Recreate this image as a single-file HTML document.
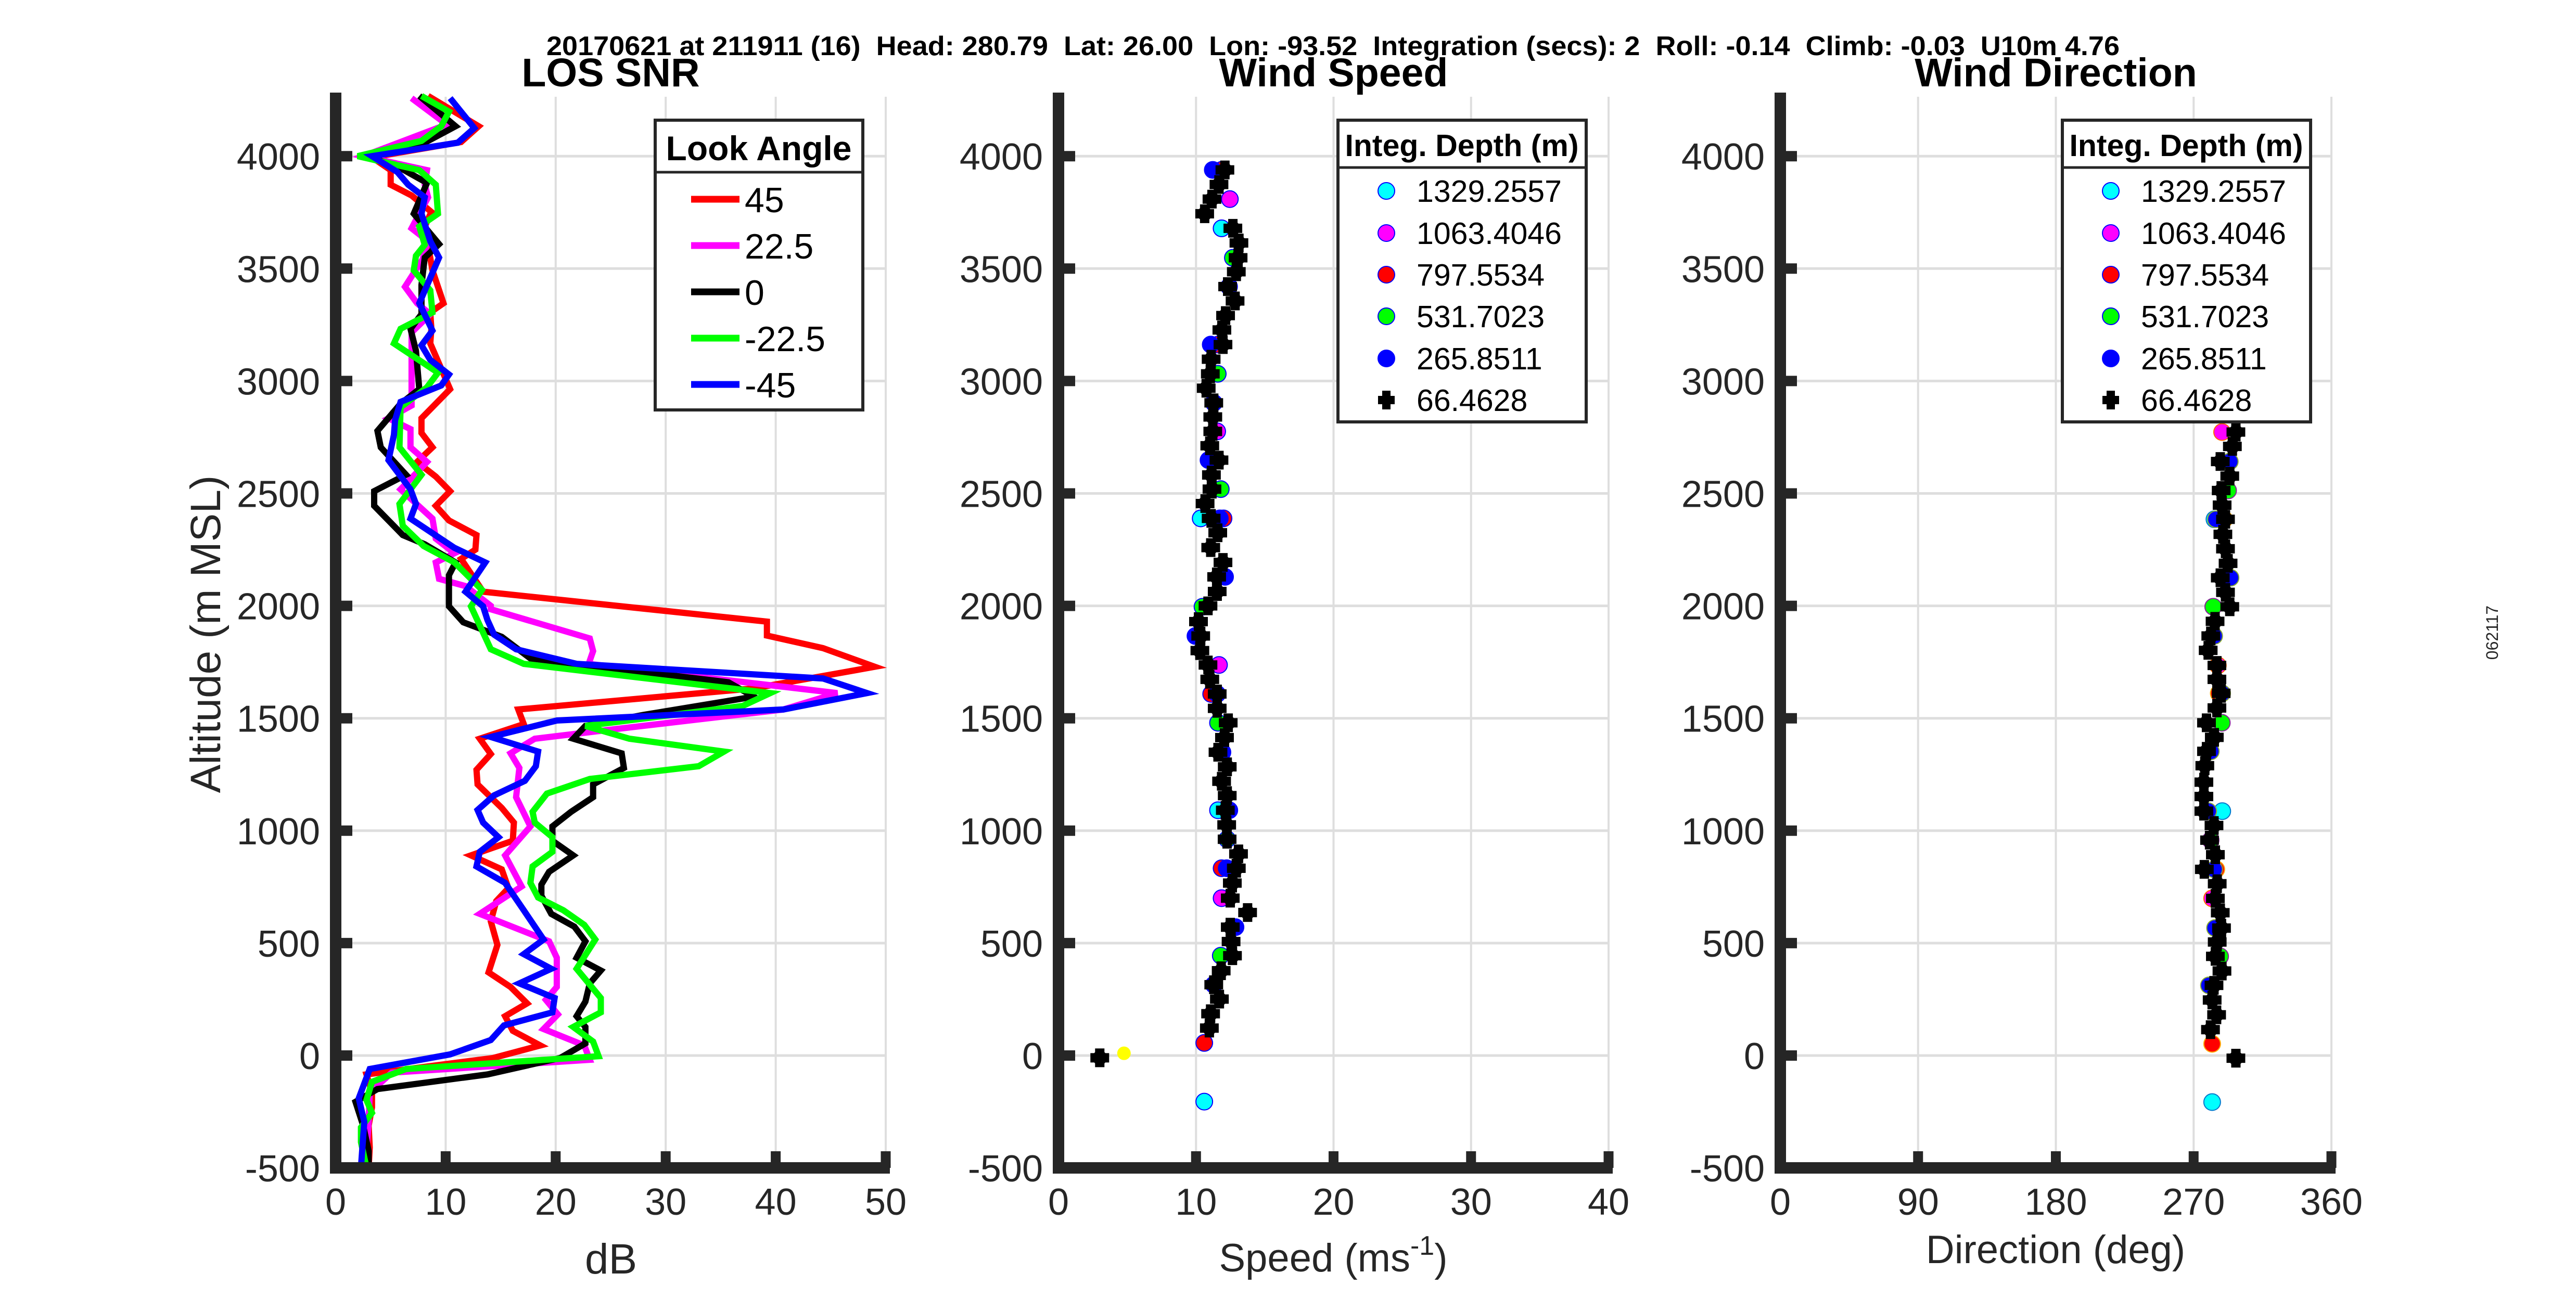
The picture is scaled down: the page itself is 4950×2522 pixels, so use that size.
<!DOCTYPE html>
<html><head><meta charset="utf-8"><title>LOS SNR / Wind Speed / Wind Direction</title>
<style>
html,body{margin:0;padding:0;background:#fff;}
svg{display:block;font-family:"Liberation Sans",Arial,sans-serif;}
</style></head>
<body>
<svg id="fig" xmlns="http://www.w3.org/2000/svg" width="4950" height="2522" viewBox="0 0 4950 2522">
<rect x="0" y="0" width="4950" height="2522" fill="#fff"/>
<text x="1050" y="106" font-size="52" font-weight="bold" textLength="3023" lengthAdjust="spacingAndGlyphs" fill="#000" xml:space="preserve" style="white-space:pre">20170621 at 211911 (16)  Head: 280.79  Lat: 26.00  Lon: -93.52  Integration (secs): 2  Roll: -0.14  Climb: -0.03  U10m 4.76</text>
<text x="4800" y="1216" font-size="32" fill="#262626" text-anchor="middle" transform="rotate(-90 4800 1216)">062117</text>
</svg>
<script>
// ---------- data ----------
const altTicks = [-500,0,500,1000,1500,2000,2500,3000,3500,4000];
const snrTicks = [0,10,20,30,40,50];
const speedTicks = [0,10,20,30,40];
const dirTicks = [0,90,180,270,360];
const lookAngles = ["45","22.5","0","-22.5","-45"];
const depthLabels = ["1329.2557","1063.4046","797.5534","531.7023","265.8511","66.4628"];

const snr45Alt = [4268,4133,4063,3995,3938,3873,3825,3752,3687,3492,3346,3305,3232,3167,2964,2834,2769,2705,2640,2575,2510,2445,2380,2315,2250,2209,2063,1930,1868,1812,1729,1633,1539,1474,1409,1341,1271,1206,1101,1036,955,890,828,744,687,597,492,370,305,232,175,110,45,-11,-84,-165,-230,-312,-409,-498];
const snr45Db  = [8.4,13.0,11.4,3.3,5.0,5.0,6.9,8.7,8.1,8.8,9.8,8.6,8.7,8.6,10.4,7.8,7.8,8.8,7.4,9.1,10.4,9.1,10.3,12.8,12.7,11.4,13.4,39.2,39.2,44.3,49.0,38.0,16.6,17.1,13.1,14.1,12.8,12.9,15.1,16.2,16.1,12.3,15.1,15.7,14.6,14.1,14.7,13.9,15.9,17.4,15.4,16.1,18.6,14.3,2.8,3.3,3.3,3.0,3.1,3.0];

const snr22Alt = [4258,4141,4000,3938,3873,3817,3679,3622,3541,3419,3346,3297,3216,3005,2891,2834,2786,2705,2640,2518,2388,2299,2234,2193,2120,2088,2000,1985,1855,1799,1742,1612,1539,1442,1409,1344,1279,1149,1019,890,752,630,508,435,305,248,183,118,45,-19,-76,-165,-295,-425,-498];
const snr22Db  = [6.9,10.1,2.5,8.3,8.1,8.4,6.9,8.4,7.9,6.3,7.4,8.6,6.9,6.9,6.9,4.8,6.8,6.8,8.3,5.9,8.8,9.1,10.8,9.1,9.4,11.8,14.1,14.1,23.1,23.4,23.0,45.6,40.7,23.7,18.1,15.9,16.7,16.4,17.7,15.4,16.9,13.1,19.4,20.1,20.1,19.1,20.2,18.9,22.6,23.1,5.1,3.1,3.0,2.8,2.6];

const snr0Alt = [4268,4133,4060,3995,3955,3881,3744,3609,3549,3427,3297,3232,3135,2964,2899,2778,2705,2583,2510,2445,2315,2274,2193,2136,1998,1927,1862,1766,1660,1596,1515,1466,1409,1344,1279,1206,1149,1084,1019,955,890,817,760,711,630,573,508,435,378,321,240,175,127,54,-11,-84,-149,-206,-312,-425,-498];
const snr0Db  = [7.6,10.9,8.1,3.1,5.6,8.3,7.1,9.4,8.1,7.8,7.8,6.8,7.3,7.6,5.9,3.8,4.1,6.4,3.5,3.5,6.1,8.1,10.9,10.3,10.3,11.6,15.1,17.7,35.7,38.0,28.0,22.7,21.6,26.0,26.2,23.4,23.4,21.4,19.7,19.7,21.6,19.4,18.7,18.7,19.6,21.7,22.7,21.9,24.1,23.1,22.7,21.9,22.7,22.7,20.4,13.8,3.8,1.8,2.5,3.0,3.0];

const snrM22Alt = [4268,4198,4133,4068,4000,3938,3873,3744,3687,3606,3557,3492,3403,3305,3232,3167,3102,3037,2972,2883,2705,2583,2453,2356,2266,2193,2071,1998,1807,1742,1612,1555,1466,1409,1352,1287,1230,1165,1084,1036,971,906,841,768,703,646,581,516,386,256,192,127,62,-3,-60,-117,-198,-255,-320,-385,-498];
const snrM22Db  = [7.8,10.3,9.6,7.8,2.0,7.6,9.1,9.3,7.6,8.1,7.3,7.1,8.6,8.8,5.9,5.3,7.3,9.3,8.3,5.9,5.8,7.8,5.8,6.1,8.0,10.8,13.3,12.3,14.1,17.1,39.5,37.0,22.7,26.7,35.3,33.0,23.1,19.2,17.9,18.1,19.7,19.7,17.9,17.7,18.4,20.7,22.6,23.6,21.9,24.1,24.1,21.6,23.4,23.9,6.4,3.3,2.8,3.3,2.3,2.3,2.8];

const snrM45Alt = [4258,4125,4060,4000,3930,3873,3817,3744,3622,3549,3346,3224,3159,3094,3029,2980,2907,2826,2761,2648,2518,2453,2388,2258,2193,2063,1998,1937,1872,1807,1742,1677,1612,1539,1490,1417,1352,1287,1222,1157,1092,1036,971,906,841,768,646,516,451,386,321,256,192,134,69,5,-60,-190,-295,-498];
const snrM45Db  = [10.4,12.6,11.1,3.3,5.6,6.6,8.1,7.8,8.6,9.4,7.6,8.8,7.8,8.6,10.3,9.6,5.9,5.4,5.3,4.8,6.8,7.3,6.8,10.8,13.6,11.8,13.4,13.8,14.4,16.4,21.9,44.3,48.3,40.7,20.1,14.1,18.4,18.2,17.2,14.4,12.9,13.4,14.8,13.1,12.8,15.4,17.1,18.9,17.1,19.6,16.7,19.9,19.7,15.3,14.1,10.4,3.1,2.1,2.6,2.3];

// wind speed
const spdCyanAlt = [3679,2389,1091,-205];
const spdCyan    = [11.86,10.34,11.6,10.6];
const spdMagAlt  = [3809,2776,1737,700];
const spdMag     = [12.46,11.54,11.67,11.86];
const spdRedAlt  = [3939,3162,2389,1608,833,56];
const spdRed     = [11.86,11.6,12.0,11.1,11.86,10.6];
const spdGrnAlt  = [3548,3032,2519,1996,1480,962,444];
const spdGrn     = [12.68,11.58,11.8,10.47,11.6,12.26,11.8];
const spdBluAlt  = [3939,3420,3162,2903,2648,2389,2129,1866,1608,1349,1091,833,571,315];
const spdBlu     = [11.22,12.4,11.07,11.29,10.91,11.73,12.11,9.96,11.54,11.92,12.42,12.23,12.87,11.29];
const spdBlkAlt  = [3939,3874,3809,3744,3679,3614,3548,3486,3420,3356,3291,3227,3162,3097,3032,2968,2903,2840,2776,2712,2648,2582,2519,2455,2389,2325,2259,2193,2129,2064,2000,1930,1866,1801,1737,1673,1608,1544,1480,1414,1349,1284,1220,1156,1091,1026,962,897,833,767,700,636,571,507,444,377,315,251,186,122,-10];
const spdBlk     = [12.1,11.67,11.16,10.63,12.68,13.12,13.06,12.93,12.30,12.84,12.15,11.88,11.96,11.10,11.04,10.74,11.29,11.22,11.22,11.0,11.67,11.12,11.16,10.66,11.10,11.58,11.07,11.96,11.50,11.54,10.87,10.18,10.34,10.28,10.87,11.0,11.54,11.54,12.34,12.07,11.60,12.27,11.86,12.27,12.13,12.23,12.26,13.09,12.93,12.64,12.49,13.75,12.49,12.55,12.65,11.83,11.29,11.70,11.06,10.97,3.0];
const spdSurfAlt = [10];
const spdSurf    = [4.76];

// wind direction
const dirCyanAlt = [2385,1087,-207];
const dirCyan    = [283.6,288.7,282.1];
const dirMagAlt  = [2773,1735,699];
const dirMag     = [288.6,285.8,282.1];
const dirRedAlt  = [2385,1611,828,52];
const dirRed     = [290.0,286.4,284.8,282.1];
const dirGrnAlt  = [2513,1996,1480,958,441];
const dirGrn     = [292.5,282.8,288.4,281.1,287.3];
const dirBluAlt  = [2642,2385,2125,1866,1611,1353,1087,828,567,312];
const dirBlu     = [293.6,284.6,294.1,283.4,288.6,281.2,279.5,283.4,284.0,280.0];
const dirBlkAlt  = [2773,2709,2642,2577,2513,2448,2385,2318,2254,2189,2125,2060,1996,1931,1866,1802,1735,1673,1611,1546,1480,1415,1353,1289,1216,1152,1087,1023,958,893,828,764,699,635,567,505,441,376,312,247,181,115,-12];
const dirBlk     = [297.6,295.3,287.4,293.6,288.0,288.6,290.8,289.1,290.8,292.5,287.4,290.8,293.6,284.0,281.2,279.5,285.2,285.2,288.0,285.2,278.4,283.5,278.4,277.3,276.7,276.7,276.7,283.3,280.4,284.2,277.0,285.4,284.2,287.4,288.2,285.4,284.2,288.5,283.3,282.1,285.0,281.0,297.6];

// ---------- layout ----------
const NS = "http://www.w3.org/2000/svg";
const svg = document.getElementById('fig');
const AX = '#262626', GRID = '#dedede';
const yTop = 178, yBot = 2245;
function yOf(a){ return 2029 - a*0.4322; }
function mk(tag, attrs, parent){
  const e = document.createElementNS(NS, tag);
  for (const k in attrs) e.setAttribute(k, attrs[k]);
  (parent||svg).appendChild(e);
  return e;
}
const panels = [
  {x0:645,  x1:1702, min:0, max:50,  ticks:snrTicks,   title:'LOS SNR',        key:'snr'},
  {x0:2034, x1:3091, min:0, max:40,  ticks:speedTicks, title:'Wind Speed',     key:'speed'},
  {x0:3421, x1:4480, min:0, max:360, ticks:dirTicks,   title:'Wind Direction', key:'direction'}
];
function xOf(p, v){ return p.x0 + (v-p.min)/(p.max-p.min)*(p.x1-p.x0); }

panels.forEach(function(p){
  const g = mk('g', {});
  
  
  p.g = g;
  p.ticks.forEach(function(t){
    const l = mk('line', {x1:xOf(p,t), x2:xOf(p,t), y1:yTop+8, y2:yBot, stroke:GRID, 'stroke-width':4}, g);
    
    
  });
  altTicks.forEach(function(t){
    const l = mk('line', {x1:p.x0, x2:p.x1, y1:yOf(t), y2:yOf(t), stroke:GRID, 'stroke-width':5}, g);
    
    
  });
  const tt = mk('text', {x:(p.x0+p.x1)/2, y:166, 'font-size':77, 'font-weight':'bold', 'text-anchor':'middle', fill:'#000'}, g);
  tt.textContent = p.title;
  
  
});

function drawAxes(p){
  const g = mk('g', {});
  
  
  const yl = mk('line', {x1:p.x0, x2:p.x0, y1:yTop, y2:yBot+11, stroke:AX, 'stroke-width':22}, g);
  
  
  const xl = mk('line', {x1:p.x0-11, x2:p.x1+8, y1:yBot, y2:yBot, stroke:AX, 'stroke-width':22}, g);
  
  
  p.ticks.forEach(function(t){
    const x = xOf(p,t);
    const tk = mk('line', {x1:x, x2:x, y1:yBot-32, y2:yBot, stroke:AX, 'stroke-width':19}, g);
    
    
    const lb = mk('text', {x:x, y:2335, 'font-size':72, 'text-anchor':'middle', fill:AX}, g);
    lb.textContent = String(t);
    
    
  });
  altTicks.forEach(function(t){
    const y = yOf(t);
    const tk = mk('line', {x1:p.x0, x2:p.x0+32, y1:y, y2:y, stroke:AX, 'stroke-width':20}, g);
    
    
    const lb = mk('text', {x:p.x0-30, y:y+26, 'font-size':72, 'text-anchor':'end', fill:AX}, g);
    lb.textContent = String(t);
    
    
  });
}

// ---------- panel 1: SNR lines ----------
const snrSeries = [
  {alt:snr45Alt,  v:snr45Db,  c:'#ff0000', n:'snr-line-45'},
  {alt:snr22Alt,  v:snr22Db,  c:'#ff00ff', n:'snr-line-22-5'},
  {alt:snr0Alt,   v:snr0Db,   c:'#000000', n:'snr-line-0'},
  {alt:snrM22Alt, v:snrM22Db, c:'#00ff00', n:'snr-line-minus-22-5'},
  {alt:snrM45Alt, v:snrM45Db, c:'#0000ff', n:'snr-line-minus-45'}
];
snrSeries.forEach(function(s){
  const pts = s.alt.map(function(a,i){ return xOf(panels[0], s.v[i]).toFixed(1) + ',' + yOf(a).toFixed(1); }).join(' ');
  const pl = mk('polyline', {points:pts, fill:'none', stroke:s.c, 'stroke-width':12, 'stroke-linejoin':'miter'}, panels[0].g);
  
  
});

// ---------- markers ----------
function circle(p, v, a, fill, edge, name){
  const c = mk('circle', {cx:xOf(p,v), cy:yOf(a), r:16, fill:fill, stroke:edge, 'stroke-width':2}, p.g);
  
  
}
function plusMark(p, v, a, name){
  const x = xOf(p,v), y = yOf(a);
  const d = 'M'+(x-9)+','+(y-18)+' h18 v9 h9 v18 h-9 v9 h-18 v-9 h-9 v-18 h9 z';
  const g = mk('g', {}, p.g);
  
  
  mk('path', {d:d, fill:'#000'}, g);
  mk('circle', {cx:x, cy:y, r:14, fill:'#000'}, g);
}
const spdColored = [
  {alt:spdCyanAlt, v:spdCyan, c:'#00ffff', n:'speed-point-1329m'},
  {alt:spdMagAlt,  v:spdMag,  c:'#ff00ff', n:'speed-point-1063m'},
  {alt:spdRedAlt,  v:spdRed,  c:'#ff0000', n:'speed-point-798m'},
  {alt:spdGrnAlt,  v:spdGrn,  c:'#00ff00', n:'speed-point-532m'},
  {alt:spdBluAlt,  v:spdBlu,  c:'#0000ff', n:'speed-point-266m'}
];
spdColored.forEach(function(s){
  s.alt.forEach(function(a,i){ circle(panels[1], s.v[i], a, s.c, '#0000ff', s.n); });
});
spdSurfAlt.forEach(function(a,i){
  const c = mk('circle', {cx:xOf(panels[1], spdSurf[i]), cy:yOf(a), r:13, fill:'#ffff00'}, panels[1].g);
  
  
});
spdBlkAlt.forEach(function(a,i){ plusMark(panels[1], spdBlk[i], a, 'speed-point-66m'); });

const dirColored = [
  {alt:dirCyanAlt, v:dirCyan, c:'#00ffff', e:'#0077cc', n:'direction-point-1329m'},
  {alt:dirMagAlt,  v:dirMag,  c:'#ff00ff', e:'#ff6600', n:'direction-point-1063m'},
  {alt:dirRedAlt,  v:dirRed,  c:'#ff0000', e:'#ffaa00', n:'direction-point-798m'},
  {alt:dirGrnAlt,  v:dirGrn,  c:'#00ff00', e:'#882299', n:'direction-point-532m'},
  {alt:dirBluAlt,  v:dirBlu,  c:'#0000ff', e:'#88aa33', n:'direction-point-266m'}
];
dirColored.forEach(function(s){
  s.alt.forEach(function(a,i){ circle(panels[2], s.v[i], a, s.c, s.e, s.n); });
});
dirBlkAlt.forEach(function(a,i){ plusMark(panels[2], dirBlk[i], a, 'direction-point-66m'); });

panels.forEach(drawAxes);

// ---------- axis labels ----------
const yl = mk('text', {x:423, y:1219, 'font-size':82, 'text-anchor':'middle', fill:AX, transform:'rotate(-90 423 1219)'});
yl.textContent = 'Altitude (m MSL)';


const xl1 = mk('text', {x:1174, y:2448, 'font-size':82, 'text-anchor':'middle', fill:AX});
xl1.textContent = 'dB';


const xl2 = mk('text', {x:2562, y:2444, 'font-size':76, 'text-anchor':'middle', fill:AX});


const t1 = mk('tspan', {}, xl2); t1.textContent = 'Speed (ms';
const t2 = mk('tspan', {dy:-32, 'font-size':52}, xl2); t2.textContent = '-1';
const t3 = mk('tspan', {dy:32}, xl2); t3.textContent = ')';
const xl3 = mk('text', {x:3950, y:2428, 'font-size':76, 'text-anchor':'middle', fill:AX});
xl3.textContent = 'Direction (deg)';



// ---------- legends ----------
const lg1 = mk('g', {});


mk('rect', {x:1259, y:231, width:399, height:557, fill:'#fff', stroke:AX, 'stroke-width':6}, lg1);
mk('line', {x1:1259, x2:1658, y1:331, y2:331, stroke:AX, 'stroke-width':5}, lg1);
const lt1 = mk('text', {x:1458, y:308, 'font-size':66, 'font-weight':'bold', 'text-anchor':'middle', fill:'#000'}, lg1);
lt1.textContent = 'Look Angle';


const lgRows1 = [383,472,561,650,739];
snrSeries.forEach(function(s,i){
  const e = mk('g', {}, lg1);
  
  
  mk('line', {x1:1328, x2:1421, y1:lgRows1[i], y2:lgRows1[i], stroke:s.c, 'stroke-width':13}, e);
  const tx = mk('text', {x:1431, y:lgRows1[i]+25, 'font-size':68, fill:'#000'}, e);
  tx.textContent = lookAngles[i];
});

const depthColors = ['#00ffff','#ff00ff','#ff0000','#00ff00','#0000ff','#000000'];
const lgRows2 = [367,448,528,608,689,769];
[{x:2571, p:panels[1]}, {x:3963, p:panels[2]}].forEach(function(L){
  const g = mk('g', {});
  
  
  mk('rect', {x:L.x, y:231, width:477, height:580, fill:'#fff', stroke:AX, 'stroke-width':6}, g);
  mk('line', {x1:L.x, x2:L.x+477, y1:322, y2:322, stroke:AX, 'stroke-width':5}, g);
  const tt = mk('text', {x:L.x+238, y:300, 'font-size':59, 'font-weight':'bold', 'text-anchor':'middle', fill:'#000'}, g);
  tt.textContent = 'Integ. Depth (m)';
  
  
  depthLabels.forEach(function(lbl,i){
    const e = mk('g', {}, g);
    
    
    const mx = L.x + 93, my = lgRows2[i];
    if (i < 5) {
      mk('circle', {cx:mx, cy:my, r:16, fill:depthColors[i], stroke:'#0000ff', 'stroke-width':2}, e);
    } else {
      mk('path', {d:'M'+(mx-8)+','+(my-18)+' h16 v10 h8 v16 h-8 v10 h-16 v-10 h-8 v-16 h8 z', fill:'#000'}, e);
    }
    const tx = mk('text', {x:L.x+151, y:my+21, 'font-size':59, fill:'#000'}, e);
    tx.textContent = lbl;
  });
});
</script>
</body></html>
